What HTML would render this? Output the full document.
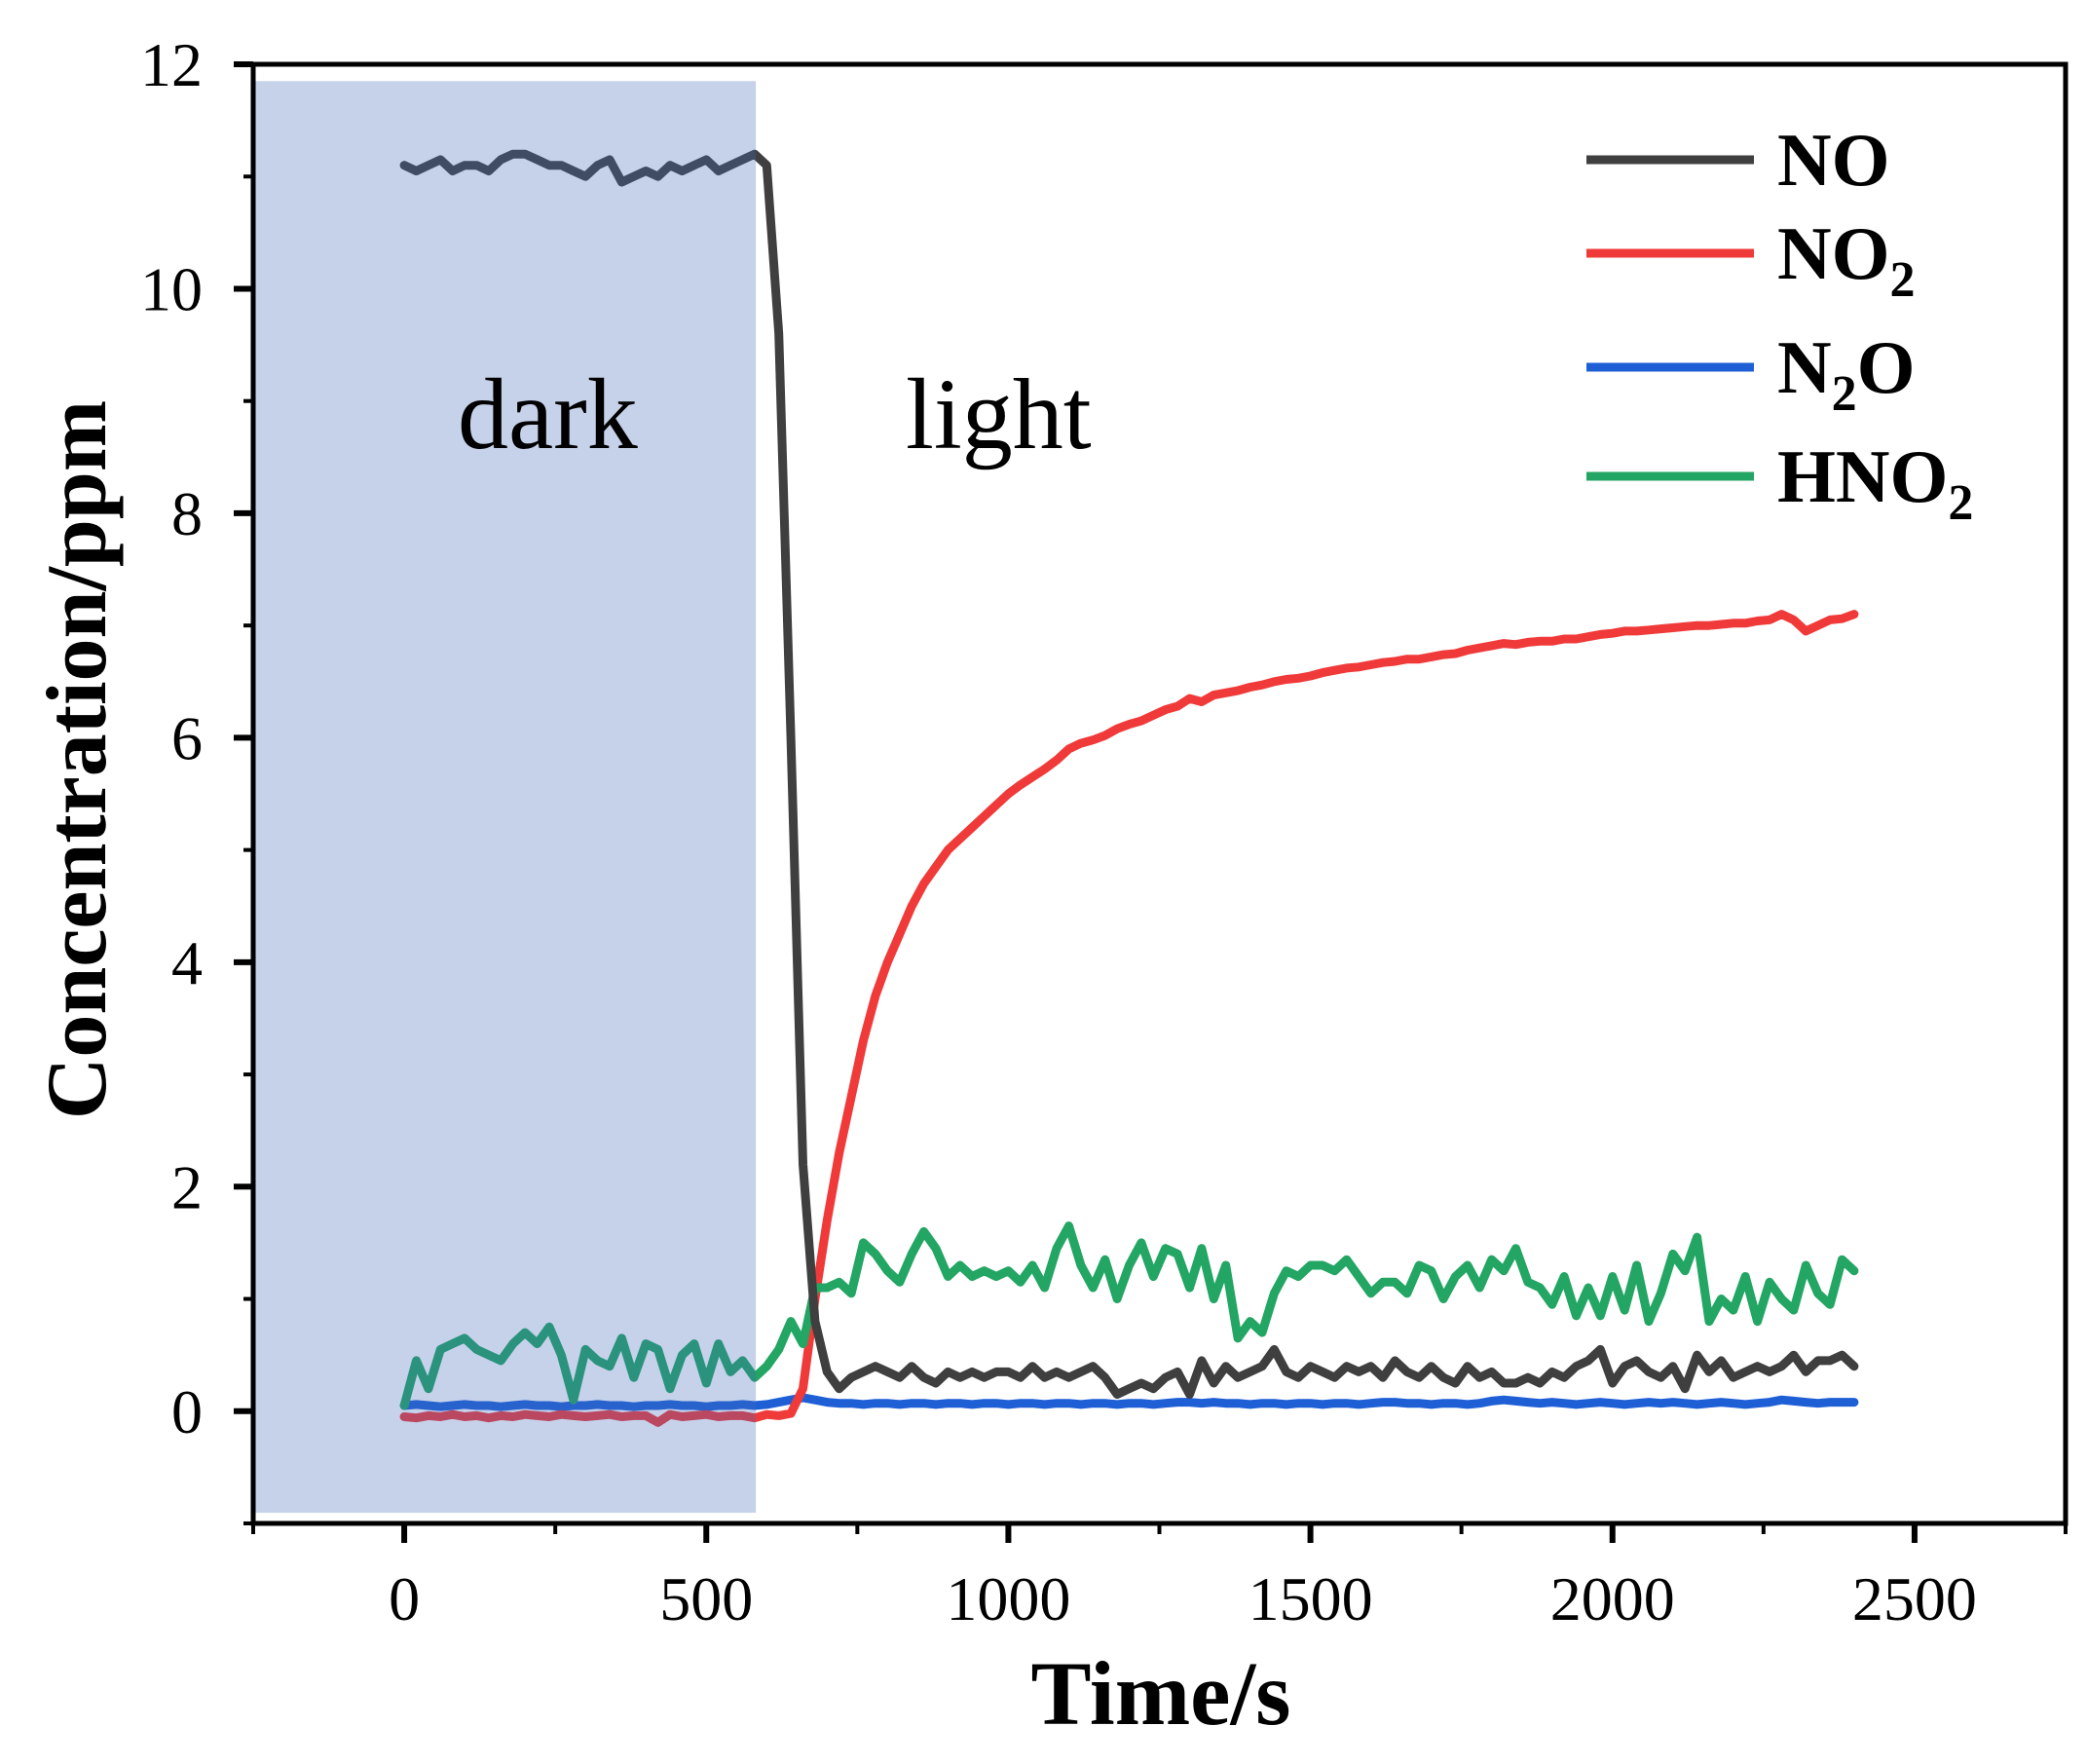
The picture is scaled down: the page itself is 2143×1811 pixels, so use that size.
<!DOCTYPE html>
<html><head><meta charset="utf-8">
<style>
html,body{margin:0;padding:0;background:#fff;}
svg{display:block;}
text{font-family:"Liberation Serif",serif;}
</style></head>
<body>
<svg id="chart" width="2143" height="1811" viewBox="0 0 2143 1811" xmlns="http://www.w3.org/2000/svg">
<g id="series"></g>
<rect id="shade"></rect>
<g id="axes"></g>
<text x="470" y="460" font-size="104">dark</text>
<text x="930" y="460" font-size="104">light</text>
<text transform="translate(108,780) rotate(-90)" text-anchor="middle" font-size="88" font-weight="bold">Concentration/ppm</text>
<text x="1192" y="1770" text-anchor="middle" font-size="93" font-weight="bold">Time/s</text>
<g id="legend"></g>
</svg>
<script>
const times=[0,20,40,60,80,100,120,140,160,180,200,220,240,260,280,300,320,340,360,380,400,420,440,460,480,500,520,540,560,580,600,620,640,660,680,700,720,740,760,780,800,820,840,860,880,900,920,940,960,980,1000,1020,1040,1060,1080,1100,1120,1140,1160,1180,1200,1220,1240,1260,1280,1300,1320,1340,1360,1380,1400,1420,1440,1460,1480,1500,1520,1540,1560,1580,1600,1620,1640,1660,1680,1700,1720,1740,1760,1780,1800,1820,1840,1860,1880,1900,1920,1940,1960,1980,2000,2020,2040,2060,2080,2100,2120,2140,2160,2180,2200,2220,2240,2260,2280,2300,2320,2340,2360,2380,2400];
const noValues=[11.1,11.05,11.1,11.15,11.05,11.1,11.1,11.05,11.15,11.2,11.2,11.15,11.1,11.1,11.05,11.0,11.1,11.15,10.95,11.0,11.05,11.0,11.1,11.05,11.1,11.15,11.05,11.1,11.15,11.2,11.1,9.6,6.0,2.2,0.8,0.35,0.2,0.3,0.35,0.4,0.35,0.3,0.4,0.3,0.25,0.35,0.3,0.35,0.3,0.35,0.35,0.3,0.4,0.3,0.35,0.3,0.35,0.4,0.3,0.15,0.2,0.25,0.2,0.3,0.35,0.15,0.45,0.25,0.4,0.3,0.35,0.4,0.55,0.35,0.3,0.4,0.35,0.3,0.4,0.35,0.4,0.3,0.45,0.35,0.3,0.4,0.3,0.25,0.4,0.3,0.35,0.25,0.25,0.3,0.25,0.35,0.3,0.4,0.45,0.55,0.25,0.4,0.45,0.35,0.3,0.4,0.2,0.5,0.35,0.45,0.3,0.35,0.4,0.35,0.4,0.5,0.35,0.45,0.45,0.5,0.4];
const no2Values=[-0.05,-0.06,-0.04,-0.05,-0.03,-0.05,-0.04,-0.06,-0.04,-0.05,-0.03,-0.04,-0.05,-0.03,-0.04,-0.05,-0.04,-0.03,-0.05,-0.04,-0.04,-0.1,-0.03,-0.05,-0.04,-0.03,-0.05,-0.04,-0.04,-0.06,-0.03,-0.04,-0.02,0.2,1.0,1.7,2.3,2.8,3.3,3.7,4.0,4.25,4.5,4.7,4.85,5.0,5.1,5.2,5.3,5.4,5.5,5.58,5.65,5.72,5.8,5.9,5.95,5.98,6.02,6.08,6.12,6.15,6.2,6.25,6.28,6.35,6.32,6.38,6.4,6.42,6.45,6.47,6.5,6.52,6.53,6.55,6.58,6.6,6.62,6.63,6.65,6.67,6.68,6.7,6.7,6.72,6.74,6.75,6.78,6.8,6.82,6.84,6.83,6.85,6.86,6.86,6.88,6.88,6.9,6.92,6.93,6.95,6.95,6.96,6.97,6.98,6.99,7.0,7.0,7.01,7.02,7.02,7.04,7.05,7.1,7.05,6.95,7.0,7.05,7.06,7.1];
const n2oValues=[0.05,0.06,0.05,0.04,0.05,0.06,0.05,0.05,0.04,0.05,0.06,0.05,0.05,0.04,0.05,0.05,0.06,0.05,0.05,0.04,0.05,0.05,0.06,0.05,0.05,0.04,0.05,0.05,0.06,0.05,0.06,0.08,0.1,0.12,0.1,0.08,0.07,0.07,0.06,0.07,0.07,0.06,0.07,0.07,0.06,0.07,0.07,0.06,0.07,0.07,0.06,0.07,0.07,0.06,0.07,0.07,0.06,0.07,0.07,0.06,0.07,0.07,0.06,0.07,0.08,0.08,0.07,0.08,0.07,0.07,0.06,0.07,0.07,0.06,0.07,0.07,0.06,0.07,0.07,0.06,0.07,0.08,0.08,0.07,0.07,0.06,0.07,0.07,0.06,0.07,0.09,0.1,0.09,0.08,0.07,0.08,0.07,0.06,0.07,0.08,0.07,0.06,0.07,0.08,0.07,0.08,0.07,0.06,0.07,0.08,0.07,0.06,0.07,0.08,0.1,0.09,0.08,0.07,0.08,0.08,0.08];
const hno2Values=[0.05,0.45,0.2,0.55,0.6,0.65,0.55,0.5,0.45,0.6,0.7,0.6,0.75,0.5,0.1,0.55,0.45,0.4,0.65,0.3,0.6,0.55,0.2,0.5,0.6,0.25,0.6,0.35,0.45,0.3,0.4,0.55,0.8,0.6,1.1,1.1,1.15,1.05,1.5,1.4,1.25,1.15,1.4,1.6,1.45,1.2,1.3,1.2,1.25,1.2,1.25,1.15,1.3,1.1,1.45,1.65,1.3,1.1,1.35,1.0,1.3,1.5,1.2,1.45,1.4,1.1,1.45,1.0,1.3,0.65,0.8,0.7,1.05,1.25,1.2,1.3,1.3,1.25,1.35,1.2,1.05,1.15,1.15,1.05,1.3,1.25,1.0,1.2,1.3,1.1,1.35,1.25,1.45,1.15,1.1,0.95,1.2,0.85,1.1,0.85,1.2,0.9,1.3,0.8,1.05,1.4,1.25,1.55,0.8,1.0,0.9,1.2,0.8,1.15,1.0,0.9,1.3,1.05,0.95,1.35,1.25];
const yTicks=[0,2,4,6,8,10,12];
const xTicks=[0,500,1000,1500,2000,2500];
const darkEnd=582;

const NS="http://www.w3.org/2000/svg";
const X0=260,X1=2121,Y0=1564,Y1=66,xMin=-250,xMax=2750,yMin=-1,yMax=12;
function sx(v){return X0+(v-xMin)/(xMax-xMin)*(X1-X0);}
function sy(v){return Y0-(v-yMin)/(yMax-yMin)*(Y0-Y1);}
function mk(tag,attrs,parent){const e=document.createElementNS(NS,tag);for(const k in attrs)e.setAttribute(k,attrs[k]);parent.appendChild(e);return e;}

const sg=document.getElementById('series');
const colors=["#3f3f3f","#f03a3a","#1f5fd6","#23a563"];
const allSeries=[n2oValues,no2Values,hno2Values,noValues];
const order=[2,1,3,0];
const slugs=["no-line","no2-line","n2o-line","hno2-line"];
order.forEach(function(si,k){
  const vals=allSeries[k];
  let d="";
  vals.forEach(function(v,i){d+=(i?"L":"M")+sx(times[i]).toFixed(1)+","+sy(v).toFixed(1);});
  const p=mk('path',{d:d,fill:"none",stroke:colors[si],"stroke-width":9,"stroke-linejoin":"round","stroke-linecap":"round"},sg);
  
  
});

const sh=document.getElementById('shade');
sh.setAttribute('x',262);sh.setAttribute('y',sy(11.85));
sh.setAttribute('width',sx(darkEnd)-262);sh.setAttribute('height',1553-sy(11.85));
sh.setAttribute('fill','rgb(62,105,185)');sh.setAttribute('fill-opacity','0.3');

const ag=document.getElementById('axes');
const frame=mk('rect',{x:X0,y:Y1,width:X1-X0,height:Y0-Y1,fill:"none",stroke:"#000","stroke-width":5},ag);


yTicks.forEach(function(v){
  const t=mk('line',{x1:X0-20,x2:X0,y1:sy(v),y2:sy(v),stroke:"#000","stroke-width":6},ag);
  
  
  const l=mk('text',{x:X0-52,y:sy(v)+22,"text-anchor":"end","font-size":64},ag);
  l.textContent=v;
  
  
});
for(let v=-1;v<=11;v+=2){
  const t=mk('line',{x1:X0-10,x2:X0,y1:sy(v),y2:sy(v),stroke:"#000","stroke-width":4},ag);
  
  
}
xTicks.forEach(function(v){
  const t=mk('line',{x1:sx(v),x2:sx(v),y1:Y0,y2:Y0+20,stroke:"#000","stroke-width":6},ag);
  
  
  const l=mk('text',{x:sx(v),y:1663,"text-anchor":"middle","font-size":64},ag);
  l.textContent=v;
  
  
});
for(let v=-250;v<=2750;v+=500){
  const t=mk('line',{x1:sx(v),x2:sx(v),y1:Y0,y2:Y0+11,stroke:"#000","stroke-width":4},ag);
  
  
}

const lg=document.getElementById('legend');
const ly=[164,260,377,489];
const labels=['NO','NO<tspan font-size="52" dy="18">2</tspan>','N<tspan font-size="52" dy="18">2</tspan><tspan dy="-18">O</tspan>','HNO<tspan font-size="52" dy="18">2</tspan>'];
[0,1,2,3].forEach(function(i){
  const ln=mk('line',{x1:1629,x2:1801,y1:ly[i],y2:ly[i],stroke:colors[i],"stroke-width":9},lg);
  
  
  const t=mk('text',{x:1825,y:ly[i]+26,"font-size":77,"font-weight":"bold"},lg);
  t.innerHTML=labels[i];
  
  
});
</script>
</body></html>
